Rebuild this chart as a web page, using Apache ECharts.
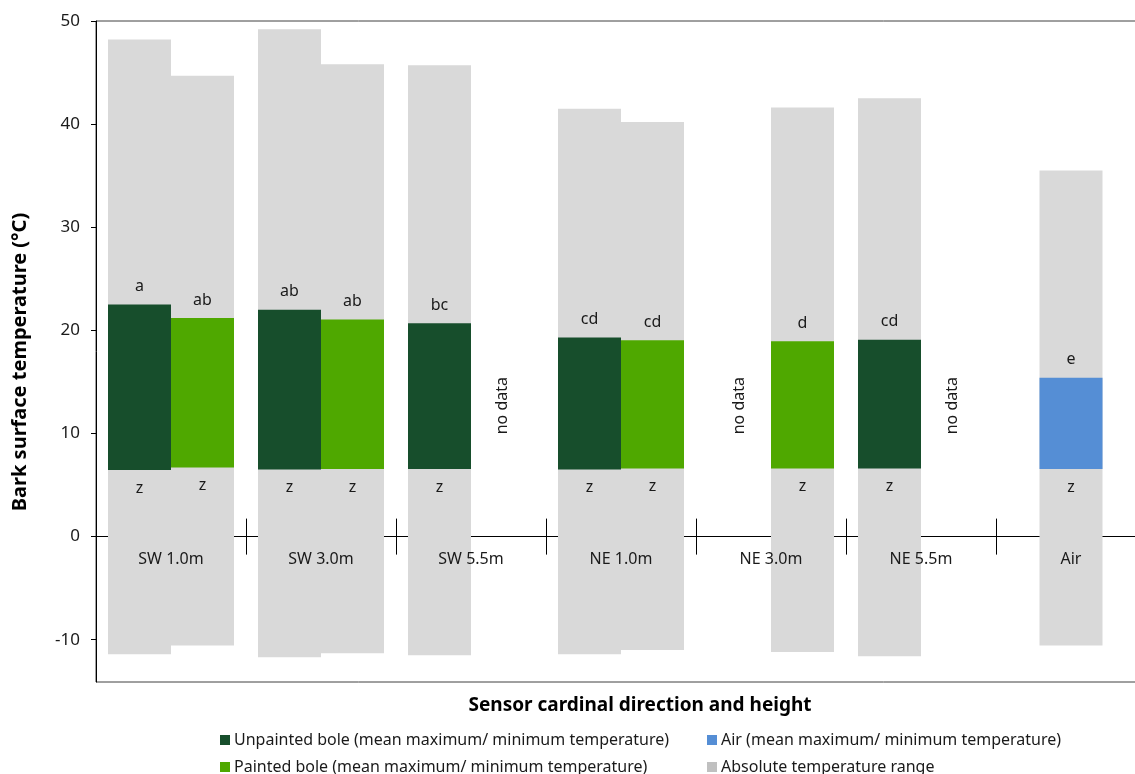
<!DOCTYPE html>
<html>
<head>
<meta charset="utf-8">
<script src="https://cdn.jsdelivr.net/npm/echarts@6/dist/echarts.min.js"></script>
<style>
  html, body { margin: 0; padding: 0; background: #fff; overflow: hidden; }
  /* the plot box runs a little past the right edge of the window, as in the source */
  #chart { width: 1146px; height: 774px; }
</style>
</head>
<body>
<div id="chart"></div>
<script>
// sensor groups along the x axis
var groups = ['SW 1.0m', 'SW 3.0m', 'SW 5.5m', 'NE 1.0m', 'NE 3.0m', 'NE 5.5m', 'Air'];

// one entry per sensor: group index, slot in group (-1 left, 1 right, 0 centre), kind
var sensorGroup = [0, 0, 1, 1, 2, 3, 3, 4, 5, 6];
var sensorSlot  = [-1, 1, -1, 1, -1, -1, 1, 1, -1, 0];
var sensorKind  = ['unpainted', 'painted', 'unpainted', 'painted', 'unpainted',
                   'unpainted', 'painted', 'painted', 'unpainted', 'air'];

// absolute temperature range
var absMax = [48.2, 44.7, 49.2, 45.8, 45.7, 41.5, 40.2, 41.6, 42.5, 35.5];
var absMin = [-11.4, -10.55, -11.7, -11.3, -11.5, -11.4, -11.0, -11.2, -11.6, -10.55];

// mean maximum / minimum temperature
var meanMax = [22.5, 21.2, 22.0, 21.05, 20.7, 19.3, 19.05, 18.95, 19.1, 15.4];
var meanMin = [6.45, 6.7, 6.5, 6.55, 6.55, 6.5, 6.6, 6.6, 6.6, 6.55];

// significance letters
var maxLetter = ['a', 'ab', 'ab', 'ab', 'bc', 'cd', 'cd', 'd', 'cd', 'e'];
var minLetter = ['z', 'z', 'z', 'z', 'z', 'z', 'z', 'z', 'z', 'z'];

// slots without data
var noDataGroup = [2, 4, 5];
var noDataSlot  = [1, -1, 1];

var yTicks = [-10, 0, 10, 20, 30, 40, 50];

var NAME_UNPAINTED = 'Unpainted bole (mean maximum/ minimum temperature)';
var NAME_PAINTED = 'Painted bole (mean maximum/ minimum temperature)';
var NAME_AIR = 'Air (mean maximum/ minimum temperature)';
var NAME_RANGE = 'Absolute temperature range';

var kindColor = { unpainted: '#174e2c', painted: '#4fa800', air: '#558ed5' };
var FONT = '"Noto Sans", "Open Sans", sans-serif';
var TXT = '#1a1a1a';
var barShare = 63 / 150;

function slotBox(api, lo, hi) {
    var band = api.size([1, 0])[0];
    var w = band * barShare;
    var cx = api.coord([api.value(0), 0])[0] + api.value(1) * w / 2;
    var top = api.coord([api.value(0), hi])[1];
    var bot = api.coord([api.value(0), lo])[1];
    return { x: cx - w / 2, y: top, width: w, height: bot - top, cx: cx };
}

var rangeData = [];
var kindData = { unpainted: [], painted: [], air: [] };
for (var i = 0; i < sensorGroup.length; i++) {
    rangeData.push([sensorGroup[i], sensorSlot[i], absMin[i], absMax[i]]);
    kindData[sensorKind[i]].push([sensorGroup[i], sensorSlot[i], meanMin[i], meanMax[i], i]);
}
var noData = [];
for (var j = 0; j < noDataGroup.length; j++) noData.push([noDataGroup[j], noDataSlot[j]]);
var groupData = groups.map(function (g, k) { return [k, 0]; });

function renderRange(params, api) {
    var b = slotBox(api, api.value(2), api.value(3));
    return {
        type: 'rect',
        shape: { x: b.x, y: b.y, width: b.width, height: b.height },
        style: { fill: '#d9d9d9' }
    };
}

function meanRenderer(color) {
    return function (params, api) {
        var b = slotBox(api, api.value(2), api.value(3));
        var k = api.value(4);
        return {
            type: 'group',
            children: [
                { type: 'rect', shape: { x: b.x, y: b.y, width: b.width, height: b.height },
                  style: { fill: color } },
                { type: 'text', x: b.cx, y: b.y - 18,
                  style: { text: maxLetter[k], align: 'center', verticalAlign: 'middle',
                           fill: TXT, font: '16px ' + FONT } },
                { type: 'text', x: b.cx, y: b.y + b.height + 18,
                  style: { text: minLetter[k], align: 'center', verticalAlign: 'middle',
                           fill: TXT, font: '16px ' + FONT } }
            ]
        };
    };
}

function renderNoData(params, api) {
    var band = api.size([1, 0])[0];
    var w = band * barShare;
    var cx = api.coord([api.value(0), 0])[0] + api.value(1) * w / 2;
    var cy = api.coord([api.value(0), 12.7])[1];
    return {
        type: 'text', x: cx, y: cy, rotation: Math.PI / 2,
        style: { text: 'no data', align: 'center', verticalAlign: 'middle',
                 fill: TXT, font: '16px ' + FONT }
    };
}

// category labels and the separators crossing the zero line
function renderGroupAxis(params, api) {
    var k = api.value(0);
    var p = api.coord([k, 0]);
    var band = api.size([1, 0])[0];
    var kids = [
        { type: 'text', x: p[0], y: p[1] + 23,
          style: { text: groups[k], align: 'center', verticalAlign: 'middle',
                   fill: TXT, font: '16px ' + FONT } }
    ];
    if (k < groups.length - 1) {
        var sx = Math.round(p[0] + band / 2) + 0.5;
        kids.push({ type: 'line', shape: { x1: sx, y1: p[1] - 18, x2: sx, y2: p[1] + 18 },
                    style: { stroke: '#000', lineWidth: 1 } });
    }
    return { type: 'group', children: kids };
}

function meanSeries(name, kind) {
    return {
        name: name, type: 'custom', xAxisIndex: 0, yAxisIndex: 0,
        itemStyle: { color: kindColor[kind] },
        encode: { x: 0, y: [2, 3] },
        renderItem: meanRenderer(kindColor[kind]),
        data: kindData[kind], z: 3
    };
}

function legendAt(name, color, left, top) {
    return {
        left: left, top: top, padding: 0, itemWidth: 10, itemHeight: 10, itemGap: 0,
        icon: 'rect', selectedMode: false,
        textStyle: { fontSize: 16, color: TXT, fontFamily: FONT, padding: [0, 0, 0, -1] },
        data: [{ name: name, itemStyle: { color: color } }]
    };
}

var chart = echarts.init(document.getElementById('chart'));
chart.setOption({
    animation: false,
    textStyle: { fontFamily: FONT },
    grid: { left: 96, right: 0, top: 21, bottom: 92, show: true,
            borderColor: '#404040', borderWidth: 1, backgroundColor: 'transparent' },
    legend: [
        legendAt(NAME_UNPAINTED, kindColor.unpainted, 220, 732),
        legendAt(NAME_AIR, kindColor.air, 707, 732),
        legendAt(NAME_PAINTED, kindColor.painted, 220, 759),
        legendAt(NAME_RANGE, '#c0c0c0', 707, 759)
    ],
    xAxis: {
        type: 'category', data: groups,
        axisLine: { onZero: true, lineStyle: { color: '#000', width: 1 } },
        axisTick: { show: false },
        axisLabel: { show: false },
        splitLine: { show: false }
    },
    yAxis: {
        type: 'value', min: -14.1, max: 50,
        axisLine: { show: true, lineStyle: { color: '#000' } },
        axisTick: { show: true, length: 5, customValues: yTicks, lineStyle: { color: '#000' } },
        axisLabel: { fontSize: 17, color: TXT, margin: 16, customValues: yTicks },
        splitLine: { show: false }
    },
    graphic: [
        { type: 'text', x: 20, y: 362, rotation: Math.PI / 2,
          style: { text: 'Bark surface temperature (°C)', align: 'center', verticalAlign: 'middle',
                   fill: '#000', font: 'bold 20px ' + FONT } },
        { type: 'text', x: 640, y: 706,
          style: { text: 'Sensor cardinal direction and height', align: 'center', verticalAlign: 'middle',
                   fill: '#000', font: 'bold 19px ' + FONT } }
    ],
    series: [
        {
            name: NAME_RANGE, type: 'custom', xAxisIndex: 0, yAxisIndex: 0,
            itemStyle: { color: '#c0c0c0' },
            encode: { x: 0, y: [2, 3] },
            renderItem: renderRange, data: rangeData, z: 1
        },
        meanSeries(NAME_UNPAINTED, 'unpainted'),
        meanSeries(NAME_PAINTED, 'painted'),
        meanSeries(NAME_AIR, 'air'),
        {
            type: 'custom', xAxisIndex: 0, yAxisIndex: 0,
            renderItem: renderNoData, data: noData, z: 3, silent: true
        },
        {
            type: 'custom', xAxisIndex: 0, yAxisIndex: 0,
            renderItem: renderGroupAxis, data: groupData, z: 4, silent: true
        }
    ]
});
</script>
</body>
</html>
